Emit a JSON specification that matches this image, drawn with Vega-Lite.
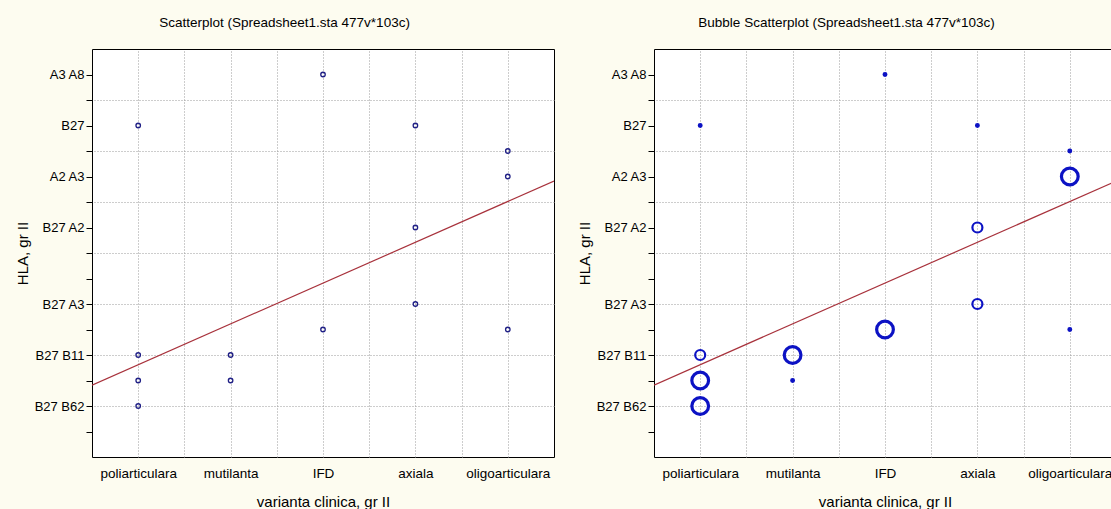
{
  "$schema": "https://vega.github.io/schema/vega-lite/v6.json",
  "background": "#fdfcf0",
  "padding": {"left": 14, "top": 15, "right": 0, "bottom": 0},
  "config": {
    "view": {"fill": "white", "stroke": "black", "strokeWidth": 1},
    "font": "Liberation Sans",
    "axis": {"labelFont": "Liberation Sans", "titleFont": "Liberation Sans", "labelColor": "black", "titleColor": "black", "titleFontWeight": "normal", "gridColor": "#9a9a9a", "gridDash": [1, 2], "gridOpacity": 1, "gridWidth": 1, "domain": false},
    "title": {"font": "Liberation Sans", "fontSize": 13.5, "fontWeight": "normal", "color": "black", "frame": "bounds", "anchor": "middle", "offset": 20},
    "concat": {"spacing": 21}
  },
  "datasets": {
    "points": [
      {"variant": "poliarticulara", "x": 1, "hla": "B27", "y": 6.5, "n": 1},
      {"variant": "poliarticulara", "x": 1, "hla": "B27 B11", "y": 2, "n": 2},
      {"variant": "poliarticulara", "x": 1, "hla": "", "y": 1.5, "n": 3},
      {"variant": "poliarticulara", "x": 1, "hla": "B27 B62", "y": 1, "n": 3},
      {"variant": "mutilanta", "x": 2, "hla": "B27 B11", "y": 2, "n": 3},
      {"variant": "mutilanta", "x": 2, "hla": "", "y": 1.5, "n": 1},
      {"variant": "IFD", "x": 3, "hla": "A3 A8", "y": 7.5, "n": 1},
      {"variant": "IFD", "x": 3, "hla": "", "y": 2.5, "n": 3},
      {"variant": "axiala", "x": 4, "hla": "B27", "y": 6.5, "n": 1},
      {"variant": "axiala", "x": 4, "hla": "B27 A2", "y": 4.5, "n": 2},
      {"variant": "axiala", "x": 4, "hla": "B27 A3", "y": 3, "n": 2},
      {"variant": "oligoarticulara", "x": 5, "hla": "", "y": 6, "n": 1},
      {"variant": "oligoarticulara", "x": 5, "hla": "A2 A3", "y": 5.5, "n": 3},
      {"variant": "oligoarticulara", "x": 5, "hla": "", "y": 2.5, "n": 1}
    ],
    "fit": [
      {"x": 0.5, "y": 1.41},
      {"x": 5.5, "y": 5.41}
    ]
  },
  "hconcat": [
    {
      "title": "Scatterplot (Spreadsheet1.sta 477v*103c)",
      "width": 462,
      "height": 408,
      "layer": [
        {
          "data": {"name": "fit"},
          "mark": {"type": "line", "color": "#a8323c", "strokeWidth": 1.2, "clip": true},
          "encoding": {
            "x": {"field": "x", "type": "quantitative", "scale": {"domain": [0.5, 5.5], "nice": false, "zero": false}, "axis": {"orient": "top", "values": [1, 1.5, 2, 2.5, 3, 3.5, 4, 4.5, 5], "grid": true, "labels": false, "ticks": false, "domain": false, "title": null}},
            "y": {"field": "y", "type": "quantitative", "scale": {"domain": [0, 8], "nice": false, "zero": false}, "axis": {"orient": "right", "values": [1, 2, 3, 4, 5, 6, 7], "grid": true, "labels": false, "ticks": false, "domain": false, "title": null}}
          }
        },
        {
          "data": {"name": "points"},
          "mark": {"type": "point", "shape": "circle", "filled": false, "stroke": "#1f1f85", "strokeWidth": 1.3, "size": 20, "opacity": 1},
          "encoding": {
            "x": {"field": "x", "type": "quantitative", "scale": {"domain": [0.5, 5.5], "nice": false, "zero": false}, "axis": {"orient": "bottom", "values": [1, 2, 3, 4, 5], "labelExpr": "['', 'poliarticulara', 'mutilanta', 'IFD', 'axiala', 'oligoarticulara'][datum.value]", "ticks": false, "tickSize": 0, "labelPadding": 9, "labelFontSize": 13.5, "title": "varianta clinica, gr II", "titleFontSize": 15, "titlePadding": 15, "grid": false}},
            "y": {"field": "y", "type": "quantitative", "scale": {"domain": [0, 8], "nice": false, "zero": false}, "axis": {"orient": "left", "values": [0.5, 1, 1.5, 2, 2.5, 3, 3.5, 4, 4.5, 5, 5.5, 6, 6.5, 7, 7.5], "labelExpr": "datum.value == 7.5 ? 'A3 A8' : datum.value == 6.5 ? 'B27' : datum.value == 5.5 ? 'A2 A3' : datum.value == 4.5 ? 'B27 A2' : datum.value == 3 ? 'B27 A3' : datum.value == 2 ? 'B27 B11' : datum.value == 1 ? 'B27 B62' : ''", "tickSize": 6, "tickColor": "black", "labelPadding": 2, "labelFontSize": 13, "title": "HLA, gr II", "titleFontSize": 15, "titlePadding": 4, "grid": false}},
            "tooltip": [{"field": "variant"}, {"field": "hla"}]
          }
        }
      ],
      "resolve": {"axis": {"x": "independent", "y": "independent"}}
    },
    {
      "title": "Bubble Scatterplot (Spreadsheet1.sta 477v*103c)",
      "width": 462,
      "height": 408,
      "layer": [
        {
          "data": {"name": "fit"},
          "mark": {"type": "line", "color": "#a8323c", "strokeWidth": 1.2, "clip": true},
          "encoding": {
            "x": {"field": "x", "type": "quantitative", "scale": {"domain": [0.5, 5.5], "nice": false, "zero": false}, "axis": {"orient": "top", "values": [1, 1.5, 2, 2.5, 3, 3.5, 4, 4.5, 5], "grid": true, "labels": false, "ticks": false, "domain": false, "title": null}},
            "y": {"field": "y", "type": "quantitative", "scale": {"domain": [0, 8], "nice": false, "zero": false}, "axis": {"orient": "right", "values": [1, 2, 3, 4, 5, 6, 7], "grid": true, "labels": false, "ticks": false, "domain": false, "title": null}}
          }
        },
        {
          "data": {"name": "points"},
          "mark": {"type": "point", "shape": "circle", "filled": false, "stroke": "#0c12c4", "opacity": 1},
          "encoding": {
            "x": {"field": "x", "type": "quantitative", "scale": {"domain": [0.5, 5.5], "nice": false, "zero": false}, "axis": {"orient": "bottom", "values": [1, 2, 3, 4, 5], "labelExpr": "['', 'poliarticulara', 'mutilanta', 'IFD', 'axiala', 'oligoarticulara'][datum.value]", "ticks": false, "tickSize": 0, "labelPadding": 9, "labelFontSize": 13.5, "title": "varianta clinica, gr II", "titleFontSize": 15, "titlePadding": 15, "grid": false}},
            "y": {"field": "y", "type": "quantitative", "scale": {"domain": [0, 8], "nice": false, "zero": false}, "axis": {"orient": "left", "values": [0.5, 1, 1.5, 2, 2.5, 3, 3.5, 4, 4.5, 5, 5.5, 6, 6.5, 7, 7.5], "labelExpr": "datum.value == 7.5 ? 'A3 A8' : datum.value == 6.5 ? 'B27' : datum.value == 5.5 ? 'A2 A3' : datum.value == 4.5 ? 'B27 A2' : datum.value == 3 ? 'B27 A3' : datum.value == 2 ? 'B27 B11' : datum.value == 1 ? 'B27 B62' : ''", "tickSize": 6, "tickColor": "black", "labelPadding": 2, "labelFontSize": 13, "title": "HLA, gr II", "titleFontSize": 15, "titlePadding": 4, "grid": false}},
            "size": {"field": "n", "type": "quantitative", "scale": {"domain": [1, 2, 3], "range": [6, 100, 280]}, "legend": null},
            "strokeWidth": {"field": "n", "type": "quantitative", "scale": {"domain": [1, 2, 3], "range": [2.5, 2.2, 3.2]}, "legend": null},
            "tooltip": [{"field": "variant"}, {"field": "hla"}, {"field": "n"}]
          }
        }
      ],
      "resolve": {"axis": {"x": "independent", "y": "independent"}}
    }
  ]
}
